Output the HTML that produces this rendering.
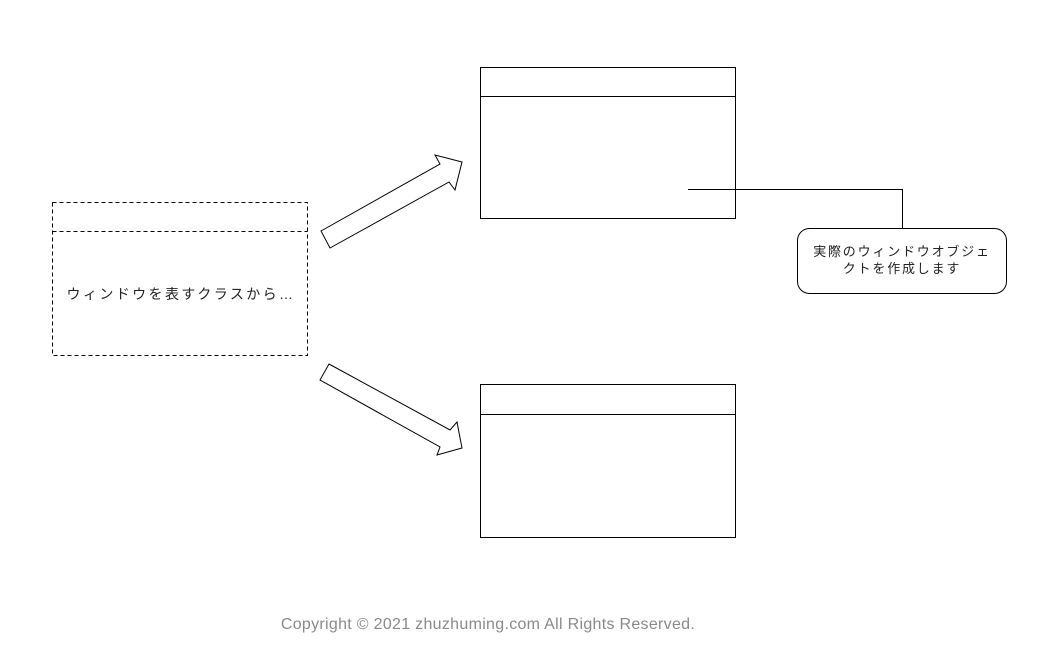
<!DOCTYPE html>
<html><head><meta charset="utf-8"><style>
html,body{margin:0;padding:0;background:#fff;width:1039px;height:651px;overflow:hidden}
svg{display:block}
text{font-family:"Liberation Sans","Noto Sans CJK JP",sans-serif}
</style></head><body>
<svg width="1039" height="651" viewBox="0 0 1039 651" xmlns="http://www.w3.org/2000/svg">
<g fill="none" stroke="#000" stroke-width="1">
<rect x="52.5" y="202.5" width="255" height="153" stroke-dasharray="4,3"/>
<line x1="52.5" y1="231.5" x2="307.5" y2="231.5" stroke-dasharray="4,3"/>
<rect x="480.5" y="67.5" width="255" height="151"/>
<line x1="480.5" y1="96.5" x2="735.5" y2="96.5"/>
<rect x="480.5" y="384.5" width="255" height="153"/>
<line x1="480.5" y1="414.5" x2="735.5" y2="414.5"/>
<polygon points="321,231 440,164 435,155 462,162 455,190 449,182 330,248"/>
<polygon points="329,364 450,430 457,422 462,448 437,455 440,447 320,380"/>
<polyline points="688,189.5 902.5,189.5 902.5,228"/>
<rect x="797.5" y="228.5" width="209" height="65" rx="12" fill="#fff"/>
</g>
<text x="181" y="299" font-size="14" letter-spacing="2.4" text-anchor="middle" fill="#222">ウィンドウを表すクラスから…</text>
<text x="902" y="256" font-size="13" letter-spacing="1.8" text-anchor="middle" fill="#222">実際のウィンドウオブジェ</text>
<text x="902" y="273" font-size="13" letter-spacing="1.8" text-anchor="middle" fill="#222">クトを作成します</text>
<text x="488" y="629" font-size="16" letter-spacing="0.3" text-anchor="middle" fill="#8a8a8a">Copyright © 2021 zhuzhuming.com All Rights Reserved.</text>
</svg>
</body></html>
